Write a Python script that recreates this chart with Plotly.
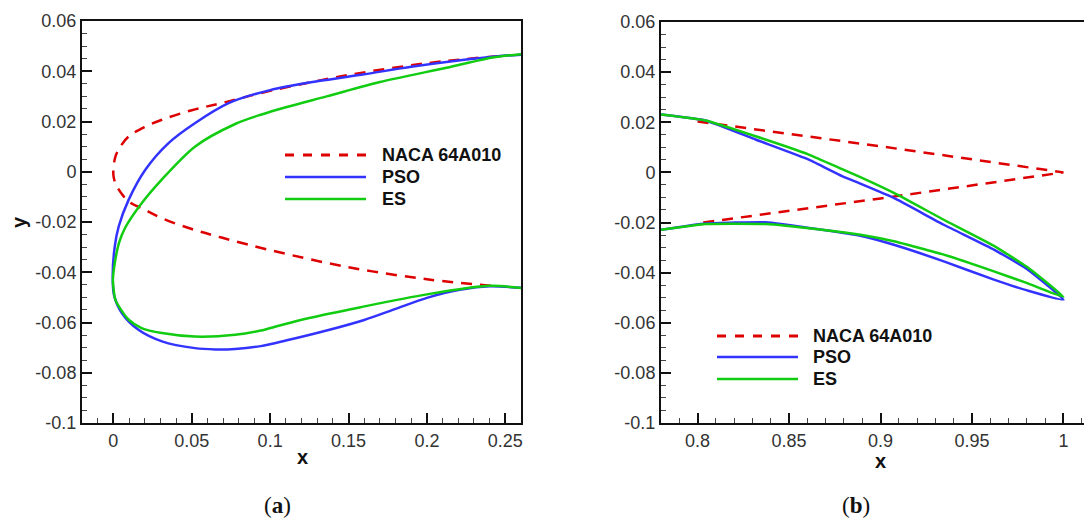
import plotly.graph_objects as go

W, H = 1092, 519
OFF = 8  # page body margin in the browser

# ---------------- data: leading-edge region (panel a) ----------------
naca_le_x = [0.0, 0.0013, 0.005, 0.0097, 0.02, 0.031, 0.05, 0.069, 0.1, 0.15, 0.2, 0.245]
naca_le_upper = [-0.0012, 0.006, 0.0105, 0.014, 0.0178, 0.0207, 0.0245, 0.0273, 0.0322, 0.0385, 0.0432, 0.0460]
naca_le_lower = [-0.0012, -0.0045, -0.0085, -0.0118, -0.0151, -0.0185, -0.0228, -0.0262, -0.0312, -0.0380, -0.0428, -0.0456]

pso_le_upper_x = [-0.0004, 0.0009, 0.0034, 0.0098, 0.0204, 0.0352, 0.0522, 0.0735, 0.1, 0.13, 0.16, 0.19, 0.22, 0.245, 0.26]
pso_le_upper_y = [-0.041, -0.0297, -0.0218, -0.0111, 0.0008, 0.0114, 0.0194, 0.0273, 0.0325, 0.0360, 0.0388, 0.0418, 0.0443, 0.0460, 0.0466]
pso_le_lower_x = [-0.0004, 0.0004, 0.0055, 0.016, 0.031, 0.052, 0.065, 0.0777, 0.094, 0.11, 0.136, 0.16, 0.18, 0.2, 0.221, 0.24, 0.26]
pso_le_lower_y = [-0.041, -0.049, -0.0563, -0.0629, -0.0675, -0.0702, -0.0707, -0.0705, -0.0694, -0.0672, -0.0632, -0.0590, -0.0546, -0.0502, -0.0470, -0.0456, -0.0462]

es_le_upper_x = [-0.0003, 0.0010, 0.0035, 0.0076, 0.0172, 0.031, 0.052, 0.0777, 0.094, 0.11, 0.136, 0.17, 0.2125, 0.242, 0.26]
es_le_upper_y = [-0.043, -0.036, -0.0285, -0.0222, -0.0132, -0.0030, 0.0100, 0.0190, 0.0227, 0.0257, 0.0300, 0.0357, 0.0414, 0.0455, 0.0468]
es_le_lower_x = [-0.0003, 0.0002, 0.0013, 0.0098, 0.018, 0.031, 0.052, 0.0777, 0.094, 0.106, 0.125, 0.157, 0.2, 0.24, 0.26]
es_le_lower_y = [-0.043, -0.047, -0.051, -0.0589, -0.0622, -0.0642, -0.0656, -0.0649, -0.0632, -0.0612, -0.0582, -0.0540, -0.0488, -0.0454, -0.0463]

# ---------------- data: trailing-edge region (panel b) ----------------
naca_te_x = [0.8, 0.9, 1.0]
naca_te_upper = [0.0203, 0.0104, 0.0]
naca_te_lower = [-0.0203, -0.0104, 0.0]

pso_te_upper_x = [0.78, 0.8044, 0.8317, 0.8608, 0.879, 0.889, 0.9073, 0.9346, 0.962, 0.9802, 1.0]
pso_te_upper_y = [0.0231, 0.0207, 0.0131, 0.0051, -0.0015, -0.0045, -0.0102, -0.0209, -0.0308, -0.0386, -0.0508]
pso_te_lower_x = [0.78, 0.8044, 0.8372, 0.868, 0.889, 0.9073, 0.9346, 0.962, 0.9802, 1.0]
pso_te_lower_y = [-0.0229, -0.0204, -0.0199, -0.0229, -0.0253, -0.0289, -0.0355, -0.0428, -0.0471, -0.0508]

es_te_upper_x = [0.78, 0.8044, 0.8317, 0.8608, 0.879, 0.889, 0.9073, 0.9346, 0.962, 0.9802, 1.0]
es_te_upper_y = [0.0231, 0.0207, 0.0144, 0.0071, 0.0013, -0.0019, -0.0082, -0.0189, -0.0293, -0.0378, -0.0497]
es_te_lower_x = [0.78, 0.8044, 0.8372, 0.868, 0.889, 0.9073, 0.9346, 0.962, 0.9802, 1.0]
es_te_lower_y = [-0.0229, -0.0206, -0.0206, -0.0229, -0.0249, -0.0275, -0.0328, -0.0395, -0.0442, -0.0497]

series_names = ["NACA 64A010", "PSO", "ES"]
captions = ["(<b>a</b>)", "(<b>b</b>)"]

# ticks
x_a_vals = [0, 0.05, 0.1, 0.15, 0.2, 0.25]
x_a_text = ["0", "0.05", "0.1", "0.15", "0.2", "0.25"]
x_b_vals = [0.8, 0.85, 0.9, 0.95, 1.0]
x_b_text = ["0.8", "0.85", "0.9", "0.95", "1"]
y_vals = [-0.1, -0.08, -0.06, -0.04, -0.02, 0, 0.02, 0.04, 0.06]
y_text = ["-0.1", "-0.08", "-0.06", "-0.04", "-0.02", "0", "0.02", "0.04", "0.06"]

RED, BLUE, GREEN = "#dd0000", "#3333ff", "#11cc11"
LW = 2.5
DASH = "11px,8px"


def loop(ux, uy, lx, ly):
    return list(reversed(ux)) + lx[1:], list(reversed(uy)) + ly[1:]


def px(x):
    return (x - OFF) / W


def py(y):
    return 1 - (y - OFF) / H


fig = go.Figure()

# panel a
nx, ny = loop(naca_le_x, naca_le_upper, naca_le_x, naca_le_lower)
fig.add_trace(go.Scatter(x=nx, y=ny, mode="lines", line=dict(color=RED, width=LW, dash=DASH, shape="spline"),
                         xaxis="x", yaxis="y", showlegend=False))
bx, by = loop(pso_le_upper_x, pso_le_upper_y, pso_le_lower_x, pso_le_lower_y)
fig.add_trace(go.Scatter(x=bx, y=by, mode="lines", line=dict(color=BLUE, width=LW, shape="spline", smoothing=0.8),
                         xaxis="x", yaxis="y", showlegend=False))
gx, gy = loop(es_le_upper_x, es_le_upper_y, es_le_lower_x, es_le_lower_y)
fig.add_trace(go.Scatter(x=gx, y=gy, mode="lines", line=dict(color=GREEN, width=LW, shape="spline", smoothing=0.8),
                         xaxis="x", yaxis="y", showlegend=False))

# panel b
nx2 = naca_te_x + list(reversed(naca_te_x))[1:]
ny2 = naca_te_upper + list(reversed(naca_te_lower))[1:]
fig.add_trace(go.Scatter(x=nx2, y=ny2, mode="lines", line=dict(color=RED, width=LW, dash=DASH),
                         xaxis="x2", yaxis="y2", showlegend=False))
for ux, uy, lx, ly, c in [(pso_te_upper_x, pso_te_upper_y, pso_te_lower_x, pso_te_lower_y, BLUE),
                          (es_te_upper_x, es_te_upper_y, es_te_lower_x, es_te_lower_y, GREEN)]:
    xx = ux + list(reversed(lx))[1:]
    yy = uy + list(reversed(ly))[1:]
    fig.add_trace(go.Scatter(x=xx, y=yy, mode="lines", line=dict(color=c, width=LW, shape="spline", smoothing=0.4),
                             xaxis="x2", yaxis="y2", showlegend=False))

tickfont = dict(family="Liberation Sans, Arial, sans-serif", size=18, color="#333333")
common_x = dict(ticks="inside", ticklen=10, tickwidth=2, tickcolor="#111", showline=True, linewidth=2,
                linecolor="#111", showgrid=False, zeroline=False, tickfont=tickfont, tickmode="array",
                automargin=False)
common_y = dict(ticks="inside", ticklen=10, tickwidth=2, tickcolor="#111", showline=True, linewidth=2,
                linecolor="#111", showgrid=False, zeroline=False, tickfont=tickfont, tickmode="array",
                tickvals=y_vals, ticktext=y_text, range=[-0.1, 0.06], automargin=False,
                minor=dict(tickmode="linear", tick0=0, dtick=0.005, ticks="inside", ticklen=5, tickwidth=1,
                           tickcolor="#444"))

fig.update_layout(
    template="none",
    width=W, height=H, margin=dict(l=0, r=0, t=0, b=0, pad=0, autoexpand=False),
    paper_bgcolor="white", plot_bgcolor="white",
    xaxis=dict(common_x, domain=[px(82), px(521)], range=[-0.02, 0.26], tickvals=x_a_vals, ticktext=x_a_text,
               mirror=True, anchor="y",
               minor=dict(tickmode="linear", tick0=0, dtick=0.01, ticks="inside", ticklen=5, tickwidth=1,
                          tickcolor="#444")),
    yaxis=dict(common_y, domain=[py(423), py(21)], mirror=True, anchor="x"),
    xaxis2=dict(common_x, domain=[px(661), 1.0], range=[0.78, 1.02], tickvals=x_b_vals, ticktext=x_b_text,
                mirror=True, anchor="y2",
                minor=dict(tickmode="linear", tick0=0.8, dtick=0.01, ticks="inside", ticklen=5, tickwidth=1,
                           tickcolor="#444")),
    yaxis2=dict(common_y, domain=[py(423), py(22)], mirror=False, anchor="x2"),
    showlegend=False,
)

shapes = []
annots = []
title_font = dict(family="Liberation Sans, Arial, sans-serif", size=20, color="#111")
annots.append(dict(x=px(302), y=py(457), xref="paper", yref="paper", text="<b>x</b>", showarrow=False,
                   font=title_font, xanchor="center", yanchor="middle"))
annots.append(dict(x=px(880), y=py(461), xref="paper", yref="paper", text="<b>x</b>", showarrow=False,
                   font=title_font, xanchor="center", yanchor="middle"))
annots.append(dict(x=px(19), y=py(222), xref="paper", yref="paper", text="<b>y</b>", showarrow=False,
                   font=title_font, xanchor="center", yanchor="middle", textangle=-90))

cap_font = dict(family="Liberation Serif, DejaVu Serif, serif", size=23, color="#111")
annots.append(dict(x=px(277), y=py(505), xref="paper", yref="paper", text=captions[0], showarrow=False,
                   font=cap_font, xanchor="center", yanchor="middle"))
annots.append(dict(x=px(856), y=py(505), xref="paper", yref="paper", text=captions[1], showarrow=False,
                   font=cap_font, xanchor="center", yanchor="middle"))

leg_font = dict(family="Liberation Sans, Arial, sans-serif", size=18, color="#111")
styles = [dict(color=RED, width=LW + 0.5, dash="dash"), dict(color=BLUE, width=LW), dict(color=GREEN, width=LW)]
for (x0, x1, xt, rows) in [(285, 366, 380, [155, 177, 199]), (717, 798, 811, [336, 357, 379])]:
    for name, st, ry in zip(series_names, styles, rows):
        shapes.append(dict(type="line", xref="paper", yref="paper", x0=px(x0), x1=px(x1), y0=py(ry), y1=py(ry),
                           line=st))
        annots.append(dict(x=px(xt), y=py(ry), xref="paper", yref="paper", text="<b>%s</b>" % name,
                           showarrow=False, font=leg_font, xanchor="left", yanchor="middle"))

fig.update_layout(shapes=shapes, annotations=annots)
fig.write_html("out.html")
